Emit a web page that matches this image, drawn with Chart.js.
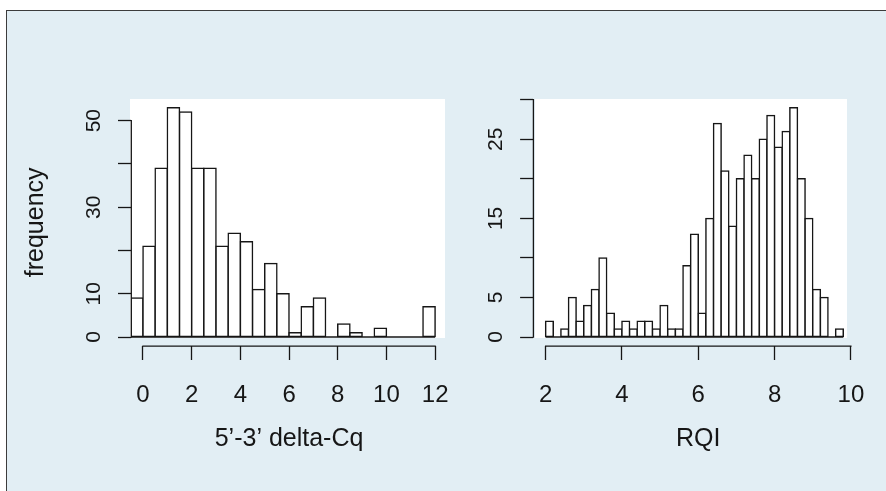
<!DOCTYPE html>
<html>
<head>
<meta charset="utf-8">
<script src="https://cdn.jsdelivr.net/npm/chart.js@4.4.1/dist/chart.umd.min.js"></script>
<style>
  body { margin: 0; width: 886px; height: 491px; overflow: hidden; background: #fff; position: relative; }
  #frame { position: absolute; left: 6px; top: 10px; width: 900px; height: 500px; background: #e2eef4;
           border-left: 1px solid #3c3c3c; border-top: 1px solid #3c3c3c; }
  .panel { position: absolute; background: #fff; top: 99px; height: 239px; }
  #pl { left: 130px; width: 315px; }
  #pr { left: 535px; width: 312px; }
  canvas { position: absolute; top: 0; }
  #left { left: 0; }
  #right { left: 470px; }
</style>
</head>
<body>
<div id="frame"></div>
<div class="panel" id="pl"></div>
<div class="panel" id="pr"></div>
<canvas id="left" width="470" height="491"></canvas>
<canvas id="right" width="416" height="491"></canvas>
<script>
// left panel: 5'-3' delta-Cq, bins of 0.5 (bin centres)
const deltaBins = [-0.25, 0.25, 0.75, 1.25, 1.75, 2.25, 2.75, 3.25, 3.75, 4.25, 4.75, 5.25, 5.75,
  6.25, 6.75, 7.25, 7.75, 8.25, 8.75, 9.25, 9.75, 10.25, 10.75, 11.25, 11.75];
const deltaCounts = [9, 21, 39, 53, 52, 39, 39, 21, 24, 22, 11, 17, 10,
  1, 7, 9, 0, 3, 1, 0, 2, 0, 0, 0, 7];
const deltaXTicks = [0, 2, 4, 6, 8, 10, 12];
const deltaYTicks = [0, 10, 20, 30, 40, 50];
const deltaYLabels = [0, 10, 30, 50];

// right panel: RQI, bins of 0.2 (bin centres)
const rqiBins = [2.1, 2.3, 2.5, 2.7, 2.9, 3.1, 3.3, 3.5, 3.7, 3.9, 4.1, 4.3, 4.5, 4.7, 4.9,
  5.1, 5.3, 5.5, 5.7, 5.9, 6.1, 6.3, 6.5, 6.7, 6.9, 7.1, 7.3, 7.5, 7.7, 7.9,
  8.1, 8.3, 8.5, 8.7, 8.9, 9.1, 9.3, 9.5, 9.7];
const rqiCounts = [2, 0, 1, 5, 2, 4, 6, 10, 3, 1, 2, 1, 2, 2, 1,
  4, 1, 1, 9, 13, 3, 15, 27, 21, 14, 20, 23, 20, 25, 28,
  24, 26, 29, 20, 15, 6, 5, 0, 1];
const rqiXTicks = [2, 4, 6, 8, 10];
const rqiYTicks = [0, 5, 10, 15, 20, 25, 30];
const rqiYLabels = [0, 5, 15, 25];

const ink = "#161616";
Chart.defaults.font.family = '"Liberation Sans", Arial, Helvetica, sans-serif';
Chart.defaults.color = ink;

// baseline under the bars + R style axis lines (first tick to last tick)
const rAxes = {
  id: "rAxes",
  afterDatasetsDraw(chart) {
    const { ctx, chartArea, scales: { x, y } } = chart;
    const pts = chart.data.datasets[0].data;
    const half = (pts[1].x - pts[0].x) / 2;
    const y0 = y.getPixelForValue(0);
    ctx.save();
    ctx.strokeStyle = ink;
    ctx.lineWidth = 1.5;
    ctx.beginPath();
    ctx.moveTo(Math.max(chartArea.left, x.getPixelForValue(pts[0].x - half)), y0);
    ctx.lineTo(x.getPixelForValue(pts[pts.length - 1].x + half), y0);
    ctx.stroke();

    const xt = x.ticks, yt = y.ticks;
    ctx.lineWidth = 1.3;
    ctx.beginPath();
    ctx.moveTo(x.getPixelForValue(xt[0].value) - 0.65, chartArea.bottom);
    ctx.lineTo(x.getPixelForValue(xt[xt.length - 1].value) + 0.65, chartArea.bottom);
    ctx.moveTo(chartArea.left, y.getPixelForValue(yt[0].value) + 0.65);
    ctx.lineTo(chartArea.left, y.getPixelForValue(yt[yt.length - 1].value) - 0.65);
    ctx.stroke();
    ctx.restore();
  },
};

function hist(id, bins, counts, xTicks, yTicks, yLabels, xTitle, yTitle, box) {
  return new Chart(document.getElementById(id), {
    type: "bar",
    data: {
      datasets: [{
        data: bins.map((b, i) => ({ x: b, y: counts[i] })),
        backgroundColor: "#ffffff",
        borderColor: ink,
        borderWidth: 1.5,
        borderSkipped: false,
        inflateAmount: 0.75,
        barPercentage: 1,
        categoryPercentage: 1,
      }],
    },
    options: {
      responsive: false,
      animation: false,
      devicePixelRatio: 1,
      layout: { padding: { top: 98.5, right: box.right, bottom: 0, left: 0 } },
      plugins: { legend: { display: false }, tooltip: { enabled: false } },
      scales: {
        x: {
          type: "linear",
          min: box.xmin,
          max: box.xmax,
          offset: false,
          afterBuildTicks: (s) => { s.ticks = xTicks.map((v) => ({ value: v })); },
          afterFit: (s) => { s.height = 144.8; },
          grid: { offset: false, drawOnChartArea: false, tickLength: 13.8, tickColor: ink, tickWidth: 1.3 },
          border: { display: false },
          ticks: { padding: 21, font: { size: 24 }, color: ink, maxRotation: 0, autoSkip: false },
          title: { display: true, text: xTitle, font: { size: 25 }, color: ink, padding: { top: 0, bottom: 36.8 } },
        },
        y: {
          type: "linear",
          min: box.ymin,
          max: box.ymax,
          afterBuildTicks: (s) => { s.ticks = yTicks.map((v) => ({ value: v })); },
          afterFit: (s) => { s.width = box.left; },
          grid: { drawOnChartArea: false, tickLength: 13.3, tickColor: ink, tickWidth: 1.3 },
          border: { display: false },
          ticks: {
            padding: 12.5, font: { size: 21 }, color: ink, autoSkip: false,
            minRotation: 90, maxRotation: 90, crossAlign: "center",
            callback: (v) => (yLabels.includes(v) ? String(v) : ""),
          },
          title: {
            display: !!yTitle, text: yTitle || "", font: { size: 25 }, color: ink,
            padding: { top: 21, bottom: 0 },
          },
        },
      },
    },
    plugins: [rAxes],
  });
}

hist("left", deltaBins, deltaCounts, deltaXTicks, deltaYTicks, deltaYLabels,
  "5\u2019-3\u2019 delta-Cq", "frequency",
  { xmin: -0.48, xmax: 12.48, ymin: -2.12, ymax: 55.12, left: 131.3, right: 14 });
hist("right", rqiBins, rqiCounts, rqiXTicks, rqiYTicks, rqiYLabels,
  "RQI", null,
  { xmin: 1.68, xmax: 10.32, ymin: -1.16, ymax: 30.16, left: 63.4, right: 20.4 });
</script>
</body>
</html>
